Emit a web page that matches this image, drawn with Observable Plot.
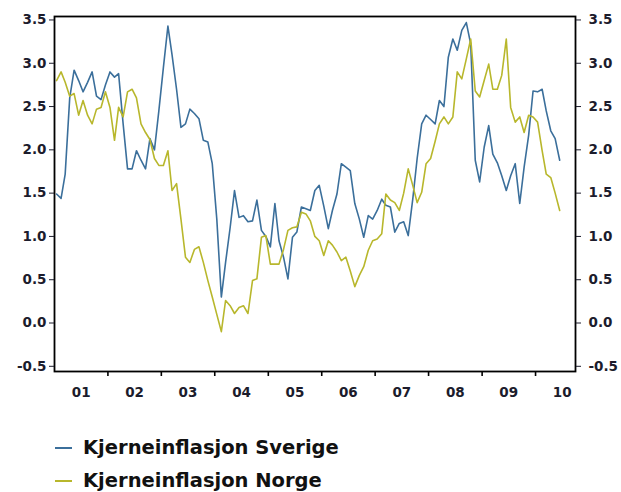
<!DOCTYPE html>
<html>
<head>
<meta charset="utf-8">
<script src="https://cdn.jsdelivr.net/npm/d3@7"></script>
<script src="https://cdn.jsdelivr.net/npm/@observablehq/plot@0.6"></script>
<style>
  body { margin: 0; background: #fff; font-family: "DejaVu Sans", sans-serif; }
  #chart svg { display: block; }
  .legend { margin-top: 21px; padding-left: 55px; }
  .item { display: flex; align-items: center; height: 33px; font-weight: bold; font-size: 19.5px; color: #111; }
  .swatch { width: 17px; height: 2px; margin-right: 11px; }
</style>
</head>
<body>
<div id="chart"></div>
<div class="legend">
  <div class="item"><span class="swatch" style="background:#3b6f9b"></span>Kjerneinflasjon Sverige</div>
  <div class="item"><span class="swatch" style="background:#b8b72c"></span>Kjerneinflasjon Norge</div>
</div>
<script>
// Monthly values, January 2001 – June 2010
const startYear = 2001;
const seriesNames = ["Kjerneinflasjon Sverige", "Kjerneinflasjon Norge"];
const seriesColors = ["#3b6f9b", "#b8b72c"];
const sverige = [
  1.49, 1.44, 1.72, 2.6, 2.92, 2.8, 2.67, 2.78, 2.9, 2.62, 2.58, 2.75,
  2.9, 2.84, 2.88, 2.3, 1.78, 1.78, 1.99, 1.88, 1.78, 2.13, 2.0, 2.45,
  2.95, 3.43, 3.1, 2.7, 2.26, 2.3, 2.47, 2.42, 2.36, 2.11, 2.09, 1.84,
  1.2, 0.3, 0.7, 1.1, 1.53, 1.22, 1.24, 1.17, 1.18, 1.42, 1.07, 1.0,
  0.88, 1.38, 0.95, 0.76, 0.51, 0.99, 1.05, 1.34, 1.32, 1.3, 1.53, 1.59,
  1.35, 1.09, 1.3, 1.49, 1.84, 1.8, 1.76, 1.38, 1.2, 0.99, 1.24, 1.2,
  1.3, 1.43, 1.36, 1.34, 1.05, 1.15, 1.17, 1.01, 1.43, 1.9, 2.3, 2.4,
  2.35, 2.3, 2.57, 2.5, 3.07, 3.28, 3.15, 3.38, 3.47, 3.22, 1.88, 1.63,
  2.03, 2.28, 1.95, 1.85, 1.7, 1.53, 1.7, 1.84, 1.38, 1.8, 2.17, 2.68,
  2.67, 2.7, 2.45, 2.22, 2.13, 1.88
];
const norge = [
  2.8, 2.9, 2.78, 2.62, 2.65, 2.4, 2.57, 2.4, 2.3, 2.47, 2.49, 2.67,
  2.49, 2.11, 2.49, 2.38, 2.67, 2.7, 2.6, 2.3, 2.2, 2.12, 1.9, 1.82,
  1.82, 1.99, 1.53, 1.61, 1.2, 0.76, 0.7, 0.85, 0.88, 0.7, 0.49, 0.3,
  0.1, -0.1, 0.26, 0.2, 0.11, 0.18, 0.2, 0.11, 0.49, 0.51, 0.99, 1.01,
  0.68, 0.68, 0.68, 0.85, 1.07, 1.1, 1.11, 1.28, 1.26, 1.18, 1.0, 0.95,
  0.78, 0.95, 0.9, 0.82, 0.72, 0.76, 0.6, 0.42, 0.55, 0.65, 0.84, 0.95,
  0.97, 1.03, 1.49, 1.42, 1.39, 1.3, 1.5, 1.78, 1.59, 1.39, 1.51, 1.84,
  1.9, 2.1, 2.3, 2.38, 2.3, 2.38, 2.9, 2.82, 3.05, 3.28, 2.68, 2.61,
  2.8, 2.99, 2.7, 2.7, 2.86, 3.28, 2.49, 2.32, 2.38, 2.2, 2.4, 2.38,
  2.32, 1.99, 1.72, 1.68, 1.5, 1.3
];
const yearLabels = ["01", "02", "03", "04", "05", "06", "07", "08", "09", "10"];
const yTicks = [-0.5, 0, 0.5, 1, 1.5, 2, 2.5, 3, 3.5];

const data = [];
[sverige, norge].forEach((arr, s) => {
  arr.forEach((v, i) => data.push({date: new Date(startYear, i, 15), value: v, series: seriesNames[s]}));
});
const yearStarts = yearLabels.slice(1).map((_, k) => new Date(startYear + k + 1, 0, 1));
const yearMids = yearLabels.map((_, k) => new Date(startYear + k, 6, 2));

const fmt = d => d.toFixed(1);
const axisFont = {fontSize: 13.5, fontWeight: "bold", fill: "#1c1c2c"};

const chart = Plot.plot({
  width: 621,
  height: 410,
  marginLeft: 54,
  marginRight: 46,
  marginTop: 16,
  marginBottom: 39,
  style: {fontFamily: "DejaVu Sans, sans-serif", background: "#fff", color: "#1c1c2c"},
  x: {type: "time", domain: [new Date(2001, 0, 1), new Date(2010, 9, 1)]},
  y: {domain: [-0.56, 3.54]},
  color: {domain: seriesNames, range: seriesColors},
  marks: [
    Plot.line(data, {x: "date", y: "value", z: "series", stroke: "series", strokeWidth: 1.6}),
    Plot.frame({stroke: "#000", strokeWidth: 1.8}),
    Plot.axisY({anchor: "left", ticks: yTicks, tickFormat: fmt, tickSize: 5, tickPadding: 3, label: null, ...axisFont}),
    Plot.axisY({anchor: "right", ticks: yTicks, tickFormat: fmt, tickSize: 5, tickPadding: 8, label: null, ...axisFont}),
    Plot.axisX({ticks: yearStarts, tickSize: 5, strokeWidth: 1.6, stroke: "#000", tickFormat: () => "", label: null}),
    Plot.axisX({ticks: yearMids, tickSize: 0, tickPadding: 16, tickFormat: (d, i) => yearLabels[i], label: null, ...axisFont})
  ]
});
document.getElementById("chart").appendChild(chart);
</script>
</body>
</html>
